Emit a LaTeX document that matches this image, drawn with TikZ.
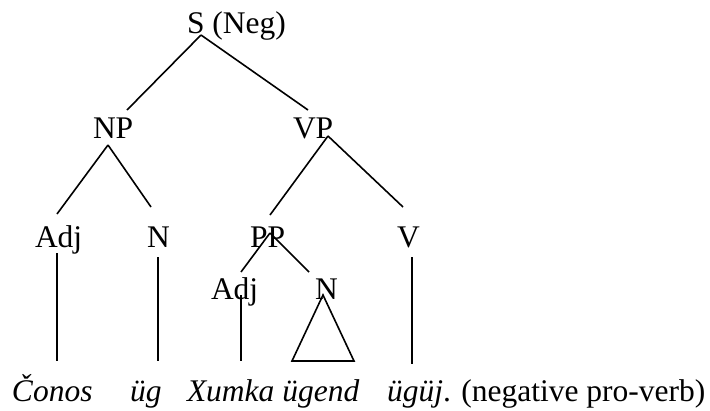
\documentclass[tikz,border=0pt]{standalone}
\usepackage{fontspec}
\setmainfont{Liberation Serif}
\begin{document}
\begin{tikzpicture}[x=1pt,y=-1pt,
  lbl/.style={anchor=base west,inner sep=0pt,outer sep=0pt,font=\fontsize{31.5}{36}\selectfont},
  br/.style={line width=1.6pt,line cap=butt,line join=miter}]
\useasboundingbox (0,0) rectangle (710,410);
% labels
\node[lbl] (S) at (187,33) {S (Neg)};
\node[lbl] (NP) at (93,138) {NP};
\node[lbl] (VP) at (293,138) {VP};
\node[lbl] (Adj1) at (35,247) {Adj};
\node[lbl] (N1) at (147,247) {N};
\node[lbl] (PP) at (250,247) {PP};
\node[lbl] (V) at (397,247) {V};
\node[lbl] (Adj2) at (211,299) {Adj};
\node[lbl] (N2) at (315,299) {N};
\node[lbl] (w1) at (12,401) {\textit{Čonos}};
\node[lbl] (w2) at (130,401) {\textit{üg}};
\node[lbl] (w3) at (187,401) {\textit{Xumka ügend}};
\node[lbl] (w4) at (387,401) {\textit{ügüj}. (negative pro-verb)};
% connector end points
\coordinate (Sb) at (201,35);
\coordinate (NPt) at (127,110);
\coordinate (VPt) at (308,110);
\coordinate (NPb) at (108,145);
\coordinate (Adj1t) at (57,214);
\coordinate (N1t) at (151,207);
\coordinate (VPb) at (328,136);
\coordinate (PPt) at (270,215);
\coordinate (Vt) at (403,207);
\coordinate (PPb) at (270,233);
\coordinate (Adj2t) at (241,272);
\coordinate (N2t) at (309,272);
\coordinate (Adj1b) at (57,253);
\coordinate (w1t) at (57,361);
\coordinate (N1b) at (158,257);
\coordinate (w2t) at (158,361);
\coordinate (Adj2b) at (241,295);
\coordinate (w3t) at (241,361);
\coordinate (N2b) at (323,295);
\coordinate (triL) at (292,361);
\coordinate (triR) at (354,361);
\coordinate (Vb) at (412,257);
\coordinate (w4t) at (412,364);
% branches
\draw[br] (Sb) -- (NPt);
\draw[br] (Sb) -- (VPt);
\draw[br] (NPb) -- (Adj1t);
\draw[br] (NPb) -- (N1t);
\draw[br] (VPb) -- (PPt);
\draw[br] (VPb) -- (Vt);
\draw[br] (PPb) -- (Adj2t);
\draw[br] (PPb) -- (N2t);
\draw[br] (Adj1b) -- (w1t);
\draw[br] (N1b) -- (w2t);
\draw[br] (Adj2b) -- (w3t);
\draw[br] (N2b) -- (triL) -- (triR) -- cycle;
\draw[br] (Vb) -- (w4t);
\end{tikzpicture}
\end{document}
